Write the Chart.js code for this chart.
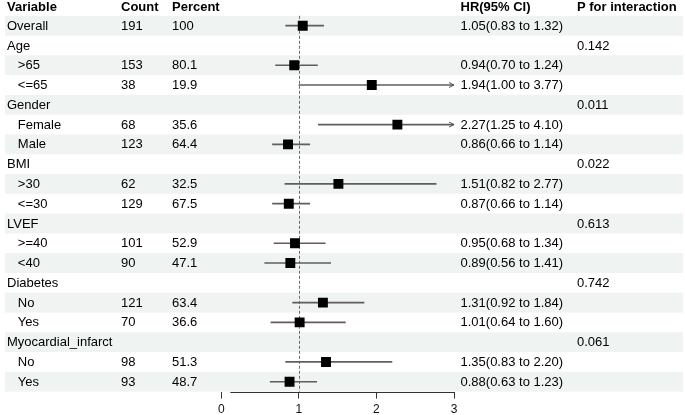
<!DOCTYPE html>
<html>
<head>
<meta charset="utf-8">
<script src="https://cdn.jsdelivr.net/npm/chart.js@4/dist/chart.umd.min.js"></script>
<style>
  html, body { margin: 0; padding: 0; background: #fff; }
  #wrap { width: 685px; height: 415px; position: relative; }
</style>
</head>
<body>
<div id="wrap"><canvas id="forest_chart"></canvas></div>
<script>
// table rows, top to bottom
const rowLabels = ['Overall', 'Age', '   >65', '   <=65', 'Gender', '   Female', '   Male',
  'BMI', '   >30', '   <=30', 'LVEF', '   >=40', '   <40', 'Diabetes', '   No', '   Yes',
  'Myocardial_infarct', '   No', '   Yes'];
const counts = ['191', '', '153', '38', '', '68', '123', '', '62', '129', '', '101', '90', '', '121', '70', '', '98', '93'];
const percents = ['100', '', '80.1', '19.9', '', '35.6', '64.4', '', '32.5', '67.5', '', '52.9', '47.1', '', '63.4', '36.6', '', '51.3', '48.7'];
const hr = [1.05, null, 0.94, 1.94, null, 2.27, 0.86, null, 1.51, 0.87, null, 0.95, 0.89, null, 1.31, 1.01, null, 1.35, 0.88];
const lower = [0.83, null, 0.70, 1.00, null, 1.25, 0.66, null, 0.82, 0.66, null, 0.68, 0.56, null, 0.92, 0.64, null, 0.83, 0.63];
const upper = [1.32, null, 1.24, 3.77, null, 4.10, 1.14, null, 2.77, 1.14, null, 1.34, 1.41, null, 1.84, 1.60, null, 2.20, 1.23];
const pInteraction = ['', '0.142', '', '', '0.011', '', '', '0.022', '', '', '0.613', '', '', '0.742', '', '', '0.061', '', ''];
const headers = ['Variable', 'Count', 'Percent', 'HR(95% CI)', 'P for interaction'];
const xTicks = [0, 1, 2, 3];
const refValue = 1;

const stripeColor = '#eff3f2';
const textFont = '13px "Liberation Sans", Arial, sans-serif';
const headFont = 'bold 13px "Liberation Sans", Arial, sans-serif';

function hrText(i) {
  if (hr[i] == null) return '';
  return hr[i].toFixed(2) + '(' + lower[i].toFixed(2) + ' to ' + upper[i].toFixed(2) + ')';
}

// draws the table part, stripes, reference line and arrows
const forestTable = {
  id: 'forestTable',
  beforeDatasetsDraw(chart) {
    const ctx = chart.ctx;
    const xs = chart.scales.x, ys = chart.scales.y;
    const area = chart.chartArea;
    const rowH = ys.getPixelForValue(1) - ys.getPixelForValue(0);
    ctx.save();
    ctx.fillStyle = stripeColor;
    for (let i = 0; i < rowLabels.length; i += 2) {
      const y = ys.getPixelForValue(i);
      ctx.fillRect(5, y - rowH / 2, 678, rowH);
    }
    // reference line
    const rx = Math.round(xs.getPixelForValue(refValue)) + 0.5;
    ctx.strokeStyle = '#6b6b6b';
    ctx.lineWidth = 1;
    ctx.setLineDash([3, 2]);
    ctx.beginPath();
    ctx.moveTo(rx, area.top);
    ctx.lineTo(rx, area.bottom);
    ctx.stroke();
    ctx.setLineDash([]);
    // x axis line
    ctx.strokeStyle = '#333';
    ctx.beginPath();
    ctx.moveTo(area.left + 9, Math.round(area.bottom) + 0.5);
    ctx.lineTo(area.right + 0.5, Math.round(area.bottom) + 0.5);
    ctx.stroke();
    ctx.restore();
  },
  afterDatasetsDraw(chart) {
    const ctx = chart.ctx;
    const xs = chart.scales.x, ys = chart.scales.y;
    const area = chart.chartArea;
    ctx.save();
    // arrows where the CI runs past the axis
    ctx.strokeStyle = '#555';
    ctx.lineWidth = 1;
    for (let i = 0; i < rowLabels.length; i++) {
      if (upper[i] != null && upper[i] > xs.max) {
        const y = ys.getPixelForValue(i);
        const x = xs.getPixelForValue(xs.max);
        ctx.beginPath();
        ctx.moveTo(x - 5, y - 2.5);
        ctx.lineTo(x, y);
        ctx.lineTo(x - 5, y + 2.5);
        ctx.stroke();
      }
    }
    ctx.fillStyle = '#000';
    ctx.textBaseline = 'middle';
    ctx.textAlign = 'left';
    const cols = [7, 121, 172, 460.5, 577];
    ctx.font = headFont;
    const hy = area.top / 2;
    headers.forEach((h, k) => ctx.fillText(h, cols[k], hy));
    ctx.font = textFont;
    for (let i = 0; i < rowLabels.length; i++) {
      const y = ys.getPixelForValue(i) + 0.5;
      ctx.fillText(rowLabels[i], cols[0], y);
      ctx.fillText(counts[i], cols[1], y);
      ctx.fillText(percents[i], cols[2], y);
      ctx.fillText(hrText(i), cols[3], y);
      ctx.fillText(pInteraction[i], cols[4], y);
    }
    ctx.restore();
  }
};

const ciData = lower.map((l, i) => (l == null ? null : [l, upper[i]]));

new Chart(document.getElementById('forest_chart'), {
  type: 'bar',
  data: {
    labels: rowLabels,
    datasets: [
      {
        label: '95% CI',
        indexAxis: 'y',
        data: ciData,
        backgroundColor: '#5e5e5e',
        borderWidth: 0,
        barThickness: 1,
        order: 2
      },
      {
        type: 'line',
        label: 'HR',
        indexAxis: 'y',
        data: hr,
        showLine: false,
        pointStyle: 'rect',
        pointRadius: 7,
        pointHoverRadius: 7,
        pointBackgroundColor: '#000',
        pointBorderWidth: 0,
        order: 1
      }
    ]
  },
  options: {
    indexAxis: 'y',
    responsive: true,
    maintainAspectRatio: false,
    animation: false,
    layout: { padding: { left: 221.3, right: 231, top: 15.8, bottom: 0 } },
    plugins: {
      legend: { display: false },
      tooltip: { enabled: false }
    },
    scales: {
      y: {
        type: 'category',
        offset: true,
        display: false,
        grid: { display: false }
      },
      x: {
        type: 'linear',
        min: 0,
        max: 3,
        afterBuildTicks: s => { s.ticks = xTicks.map(v => ({ value: v })); },
        afterFit: s => { s.height = 23.4; },
        ticks: {
          color: '#111',
          padding: 4,
          font: { family: '"Liberation Sans", Arial, sans-serif', size: 12 }
        },
        grid: { drawOnChartArea: false, drawTicks: true, tickLength: 7, color: '#333' },
        border: { display: false }
      }
    }
  },
  plugins: [forestTable]
});
</script>
</body>
</html>
